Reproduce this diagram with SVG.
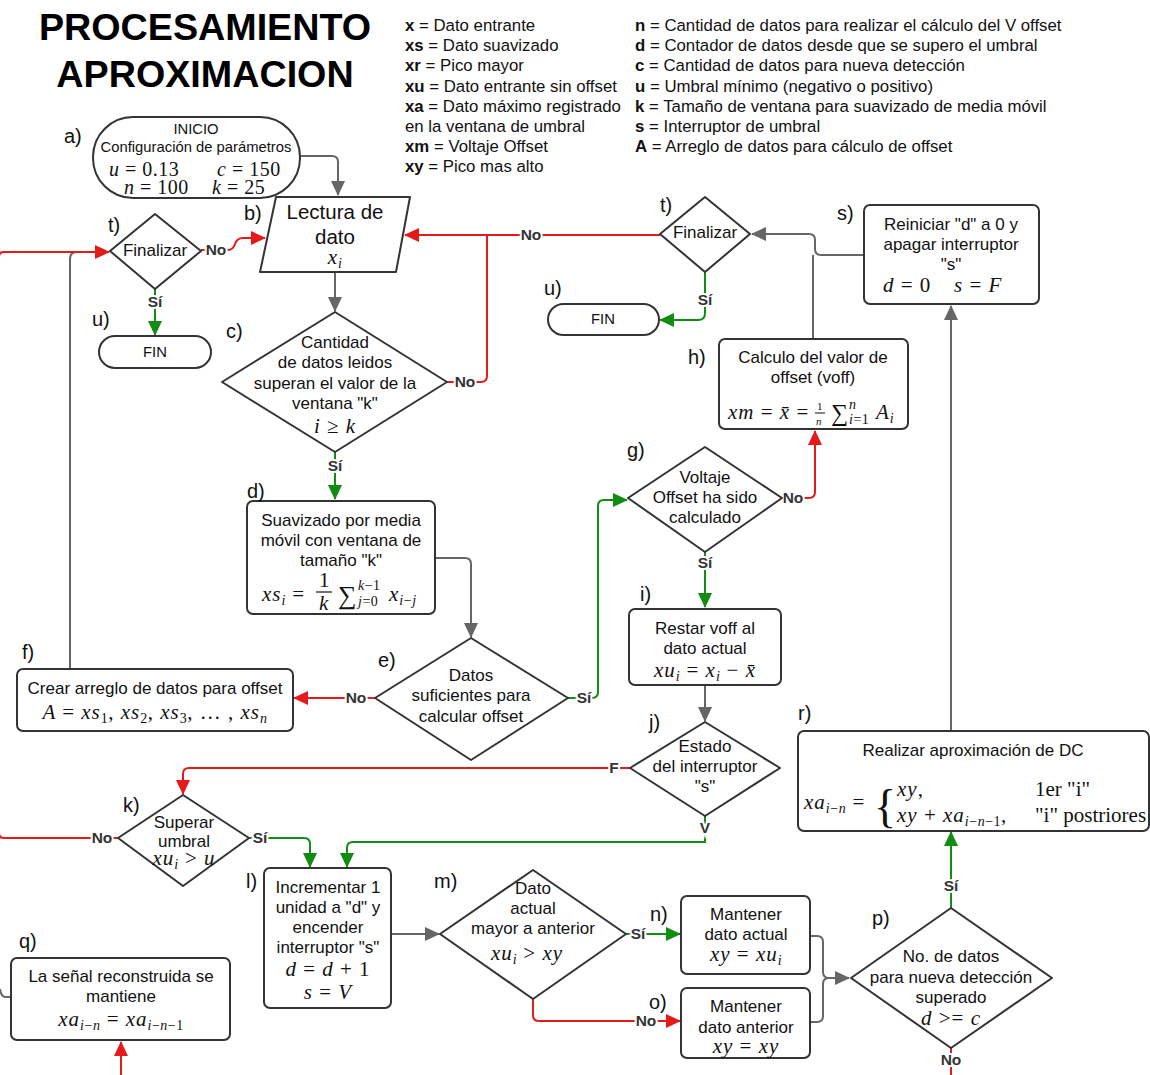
<svg xmlns="http://www.w3.org/2000/svg" width="1150" height="1075" viewBox="0 0 1150 1075">
<style>
.n{fill:#fff;stroke:#333;stroke-width:2}
.t{font-family:"Liberation Sans",Arial,sans-serif;font-size:17px;fill:#111;text-anchor:middle}
.s14{font-size:14.8px}
.m{font-family:"Liberation Serif","Times New Roman",serif;font-style:italic;font-size:21px;letter-spacing:1px;fill:#111;text-anchor:middle}
.ms{font-family:"Liberation Serif","Times New Roman",serif;font-style:italic;font-size:21px;letter-spacing:1px;fill:#111}
.ma{font-size:20px;letter-spacing:0.5px}
.up{font-style:normal}
.sb{font-size:14px;letter-spacing:0.5px}
.nl{letter-spacing:0}
.lb{font-family:"Liberation Sans",Arial,sans-serif;font-size:20px;fill:#111}
.lg{font-family:"Liberation Sans",Arial,sans-serif;font-size:16.8px;fill:#111}
.lg tspan.k{font-weight:bold}
.ttl{font-family:"Liberation Sans",Arial,sans-serif;font-size:37.7px;font-weight:bold;fill:#000;text-anchor:middle}
.c{fill:none;stroke:#666;stroke-width:2}
.cr{fill:none;stroke:#e51b1b;stroke-width:2}
.cg{fill:none;stroke:#128c12;stroke-width:2}
.cl{font-family:"Liberation Sans",Arial,sans-serif;font-size:15.5px;font-weight:bold;fill:#333;text-anchor:middle;paint-order:stroke;stroke:#fff;stroke-width:4px}
</style>
<defs>
<marker id="ag" markerUnits="userSpaceOnUse" markerWidth="16" markerHeight="14" refX="14" refY="7" orient="auto"><path d="M0,0 L15,7 L0,14 z" fill="#666"/></marker>
<marker id="ar" markerUnits="userSpaceOnUse" markerWidth="16" markerHeight="14" refX="14" refY="7" orient="auto"><path d="M0,0 L15,7 L0,14 z" fill="#e51b1b"/></marker>
<marker id="av" markerUnits="userSpaceOnUse" markerWidth="16" markerHeight="14" refX="14" refY="7" orient="auto"><path d="M0,0 L15,7 L0,14 z" fill="#128c12"/></marker>
</defs>
<rect width="1150" height="1075" fill="#fff"/>

<g id="title">
<text class="ttl" x="205" y="40">PROCESAMIENTO</text>
<text class="ttl" x="205" y="87">APROXIMACION</text>
</g>

<g id="legend">
<text class="lg" x="405" y="31"><tspan class="k">x</tspan> = Dato entrante</text>
<text class="lg" x="405" y="51"><tspan class="k">xs</tspan> = Dato suavizado</text>
<text class="lg" x="405" y="71"><tspan class="k">xr</tspan> = Pico mayor</text>
<text class="lg" x="405" y="92"><tspan class="k">xu</tspan> = Dato entrante sin offset</text>
<text class="lg" x="405" y="112"><tspan class="k">xa</tspan> = Dato máximo registrado</text>
<text class="lg" x="405" y="132">en la ventana de umbral</text>
<text class="lg" x="405" y="152"><tspan class="k">xm</tspan> = Voltaje Offset</text>
<text class="lg" x="405" y="172"><tspan class="k">xy</tspan> = Pico mas alto</text>
<text class="lg" x="635" y="31"><tspan class="k">n</tspan> = Cantidad de datos para realizar el cálculo del V offset</text>
<text class="lg" x="635" y="51"><tspan class="k">d</tspan> = Contador de datos desde que se supero el umbral</text>
<text class="lg" x="635" y="71"><tspan class="k">c</tspan> = Cantidad de datos para nueva detección</text>
<text class="lg" x="635" y="92"><tspan class="k">u</tspan> = Umbral mínimo (negativo o positivo)</text>
<text class="lg" x="635" y="112"><tspan class="k">k</tspan> = Tamaño de ventana para suavizado de media móvil</text>
<text class="lg" x="635" y="132"><tspan class="k">s</tspan> = Interruptor de umbral</text>
<text class="lg" x="635" y="152"><tspan class="k">A</tspan> = Arreglo de datos para cálculo de offset</text>
</g>

<g id="connectors">
<path class="c" d="M300 156 L332 156 Q338 156 338 162 L338 195" marker-end="url(#ag)"/>
<path class="c" d="M335 272 L335 311" marker-end="url(#ag)"/>
<path class="c" d="M435 558 L465 558 Q471 558 471 564 L471 637" marker-end="url(#ag)"/>
<path class="c" d="M70 669 L70 259 Q70 252 77 252"/>
<path class="c" d="M705 685 L705 721" marker-end="url(#ag)"/>
<path class="c" d="M391 934 L439 934" marker-end="url(#ag)"/>
<path class="c" d="M810 936 L817 936 Q823 936 823 942 L823 972 Q823 978 829 978 L849 978" marker-end="url(#ag)"/>
<path class="c" d="M810 1022 L817 1022 Q823 1022 823 1016 L823 984 Q823 978 829 978"/>
<path class="c" d="M951 731 L951 306" marker-end="url(#ag)"/>
<path class="c" d="M864 255 L821 255 Q815 255 815 249 L815 240 Q815 234 809 234 L752 234" marker-end="url(#ag)"/>
<path class="c" d="M813 339 L813 255"/>
<path class="c" d="M0 989 Q1 997 6 997 L11 997"/>

<path class="cr" d="M447 382 L481 382 Q487 382 487 376 L487 235"/>
<path class="cr" d="M660 235 L405 235" marker-end="url(#ar)"/>
<path class="cr" d="M201 250 L228 250 Q233 250 235 244 Q237 238 243 238 L265 238" marker-end="url(#ar)"/>
<path class="cr" d="M118 838 L4 838 Q-1 838 -1 833 L-1 257 Q-1 252 4 252 L109 252" marker-end="url(#ar)"/>
<path class="cr" d="M375 698 L294 698" marker-end="url(#ar)"/>
<path class="cr" d="M782 498 L809 498 Q815 498 815 492 L815 431" marker-end="url(#ar)"/>
<path class="cr" d="M630 768 L189 768 Q183 768 183 774 L183 794" marker-end="url(#ar)"/>
<path class="cr" d="M533 999 L533 1015 Q533 1021 539 1021 L680 1021" marker-end="url(#ar)"/>
<path class="cr" d="M951 1048 L951 1080"/>
<path class="cr" d="M121 1080 L121 1042" marker-end="url(#ar)"/>

<path class="cg" d="M335 452 L335 499" marker-end="url(#av)"/>
<path class="cg" d="M155 289 L155 335" marker-end="url(#av)"/>
<path class="cg" d="M705 272 L705 313 Q705 320 698 320 L660 320" marker-end="url(#av)"/>
<path class="cg" d="M568 698 L592 698 Q598 698 598 692 L598 506 Q598 500 604 500 L627 500" marker-end="url(#av)"/>
<path class="cg" d="M705 552 L705 607" marker-end="url(#av)"/>
<path class="cg" d="M705 816 L705 842 L353 842 Q347 842 347 848 L347 867" marker-end="url(#av)"/>
<path class="cg" d="M249 838 L304 838 Q310 838 310 844 L310 867" marker-end="url(#av)"/>
<path class="cg" d="M626 934 L680 934" marker-end="url(#av)"/>
<path class="cg" d="M951 908 L951 832" marker-end="url(#av)"/>

<text class="cl" x="216" y="255">No</text>
<text class="cl" x="155" y="307">Sí</text>
<text class="cl" x="531" y="240">No</text>
<text class="cl" x="705" y="305">Sí</text>
<text class="cl" x="465" y="387">No</text>
<text class="cl" x="335" y="471">Sí</text>
<text class="cl" x="356" y="703">No</text>
<text class="cl" x="584" y="703">Sí</text>
<text class="cl" x="793" y="503">No</text>
<text class="cl" x="705" y="568">Sí</text>
<text class="cl" x="614" y="773">F</text>
<text class="cl" x="705" y="833">V</text>
<text class="cl" x="102" y="843">No</text>
<text class="cl" x="260" y="843">Sí</text>
<text class="cl" x="638" y="939">Sí</text>
<text class="cl" x="646" y="1026">No</text>
<text class="cl" x="951" y="891">Sí</text>
<text class="cl" x="951" y="1065">No</text>
</g>

<g id="node-a">
<rect class="n" x="93" y="117" width="207" height="81" rx="40"/>
<text class="t s14" x="196" y="134">INICIO</text>
<text class="t s14" x="196" y="152">Configuración de parámetros</text>
<text class="ms ma" x="109" y="176">u <tspan class="up">= 0.13</tspan></text>
<text class="ms ma" x="217" y="176">c <tspan class="up">= 150</tspan></text>
<text class="ms ma" x="124" y="194">n <tspan class="up">= 100</tspan></text>
<text class="ms ma" x="212" y="194">k <tspan class="up">= 25</tspan></text>
<text class="lb" x="64" y="143">a)</text>
</g>

<g id="node-b">
<path class="n" d="M276 197 L410 197 L396 272 L260 272 Z" stroke-linejoin="round"/>
<text class="t" x="335" y="219" style="font-size:20.5px">Lectura de</text>
<text class="t" x="335" y="244" style="font-size:20.5px">dato</text>
<text class="m" x="335" y="264">x<tspan class="sb" dy="4">i</tspan></text>
<text class="lb" x="244" y="220">b)</text>
</g>

<g id="node-c">
<path class="n" d="M335 312 L447 382 L335 452 L222 382 Z" stroke-linejoin="round"/>
<text class="t" x="335" y="348">Cantidad</text>
<text class="t" x="335" y="368">de datos leidos</text>
<text class="t" x="335" y="389">superan el valor de la</text>
<text class="t" x="335" y="409">ventana "k"</text>
<text class="m" x="335" y="433">i <tspan class="up">≥</tspan> k</text>
<text class="lb" x="226" y="338">c)</text>
</g>

<g id="node-d">
<rect class="n" x="247" y="501" width="188" height="113" rx="6"/>
<text class="t" x="341" y="526">Suavizado por media</text>
<text class="t" x="341" y="546">móvil con ventana de</text>
<text class="t" x="341" y="566">tamaño "k"</text>
<text class="ms" x="262" y="601">xs<tspan class="sb" dy="4">i</tspan><tspan class="up" dy="-4"> =</tspan></text>
<text class="ms up" x="319" y="587">1</text>
<line x1="316" y1="592" x2="332" y2="592" stroke="#111" stroke-width="1.2"/>
<text class="ms" x="319" y="610">k</text>
<text class="ms up" x="338" y="604" style="font-size:26px">∑</text>
<text class="ms sb" x="358" y="590">k<tspan class="up">−1</tspan></text>
<text class="ms sb" x="358" y="606">j<tspan class="up">=0</tspan></text>
<text class="ms" x="389" y="601">x<tspan class="sb" dy="4">i<tspan class="up">−</tspan>j</tspan></text>
<text class="lb" x="247" y="498">d)</text>
</g>

<g id="node-e">
<path class="n" d="M471 638 L568 698 L471 760 L375 698 Z" stroke-linejoin="round"/>
<text class="t" x="471" y="681">Datos</text>
<text class="t" x="471" y="701">suficientes para</text>
<text class="t" x="471" y="722">calcular offset</text>
<text class="lb" x="378" y="667">e)</text>
</g>

<g id="node-f">
<rect class="n" x="17" y="669" width="276" height="62" rx="6"/>
<text class="t" x="155" y="694">Crear arreglo de datos para offset</text>
<text class="m" x="155" y="719">A <tspan class="up">=</tspan> xs<tspan class="sb up" dy="4">1</tspan><tspan class="up" dy="-4">,</tspan> xs<tspan class="sb up" dy="4">2</tspan><tspan class="up" dy="-4">,</tspan> xs<tspan class="sb up" dy="4">3</tspan><tspan class="up" dy="-4">, … ,</tspan> xs<tspan class="sb" dy="4">n</tspan></text>
<text class="lb" x="22" y="659">f)</text>
</g>

<g id="node-t1">
<path class="n" d="M155 214 L201 251 L155 289 L110 251 Z" stroke-linejoin="round"/>
<text class="t" x="155" y="256">Finalizar</text>
<text class="lb" x="108" y="232">t)</text>
</g>

<g id="node-u1">
<rect class="n" x="99" y="336" width="112" height="32" rx="16"/>
<text class="t s14" x="155" y="357">FIN</text>
<text class="lb" x="92" y="326">u)</text>
</g>

<g id="node-t2">
<path class="n" d="M705 197 L750 234 L705 272 L660 234 Z" stroke-linejoin="round"/>
<text class="t" x="705" y="238">Finalizar</text>
<text class="lb" x="660" y="212">t)</text>
</g>

<g id="node-u2">
<rect class="n" x="548" y="304" width="111" height="31" rx="15.5"/>
<text class="t s14" x="603" y="324">FIN</text>
<text class="lb" x="544" y="295">u)</text>
</g>

<g id="node-s">
<rect class="n" x="864" y="205" width="175" height="99" rx="6"/>
<text class="t" x="951" y="230">Reiniciar "d" a 0 y</text>
<text class="t" x="951" y="250">apagar interruptor</text>
<text class="t" x="951" y="270">"s"</text>
<text class="ms" x="883" y="292">d <tspan class="up">= 0</tspan></text>
<text class="ms" x="954" y="292">s <tspan class="up">=</tspan> F</text>
<text class="lb" x="837" y="220">s)</text>
</g>

<g id="node-h">
<rect class="n" x="719" y="339" width="189" height="90" rx="6"/>
<text class="t" x="813" y="363">Calculo del valor de</text>
<text class="t" x="813" y="383">offset (voff)</text>
<text class="ms" x="728" y="419">xm <tspan class="up">=</tspan> x̄ <tspan class="up">=</tspan></text>
<text class="ms up" x="817" y="410" style="font-size:11px">1</text>
<line x1="815" y1="413" x2="825" y2="413" stroke="#111" stroke-width="1"/>
<text class="ms" x="816" y="425" style="font-size:11px">n</text>
<text class="ms up" x="831" y="421" style="font-size:24px">∑</text>
<text class="ms sb" x="849" y="409">n</text>
<text class="ms sb" x="849" y="424">i<tspan class="up">=1</tspan></text>
<text class="ms" x="876" y="419">A<tspan class="sb" dy="4">i</tspan></text>
<text class="lb" x="688" y="364">h)</text>
</g>

<g id="node-g">
<path class="n" d="M705 447 L782 498 L705 552 L628 498 Z" stroke-linejoin="round"/>
<text class="t" x="705" y="483">Voltaje</text>
<text class="t" x="705" y="503">Offset ha sido</text>
<text class="t" x="705" y="523">calculado</text>
<text class="lb" x="627" y="457">g)</text>
</g>

<g id="node-i">
<rect class="n" x="629" y="609" width="152" height="76" rx="6"/>
<text class="t" x="705" y="634">Restar voff al</text>
<text class="t" x="705" y="654">dato actual</text>
<text class="m" x="705" y="677">xu<tspan class="sb" dy="4">i</tspan><tspan class="up" dy="-4"> = </tspan>x<tspan class="sb" dy="4">i</tspan><tspan class="up" dy="-4"> − </tspan>x̄</text>
<text class="lb" x="640" y="601">i)</text>
</g>

<g id="node-j">
<path class="n" d="M705 722 L780 768 L705 816 L630 768 Z" stroke-linejoin="round"/>
<text class="t" x="705" y="752">Estado</text>
<text class="t" x="705" y="772">del interruptor</text>
<text class="t" x="705" y="792">"s"</text>
<text class="lb" x="649" y="729">j)</text>
</g>

<g id="node-k">
<path class="n" d="M183 795 L249 838 L183 886 L118 838 Z" stroke-linejoin="round"/>
<text class="t" x="184" y="828">Superar</text>
<text class="t" x="184" y="847">umbral</text>
<text class="m" x="184" y="865">xu<tspan class="sb" dy="4">i</tspan><tspan class="up" dy="-4"> &gt; </tspan>u</text>
<text class="lb" x="123" y="812">k)</text>
</g>

<g id="node-l">
<rect class="n" x="264" y="868" width="127" height="140" rx="6"/>
<text class="t" x="328" y="893">Incrementar 1</text>
<text class="t" x="328" y="913">unidad a "d" y</text>
<text class="t" x="328" y="933">encender</text>
<text class="t" x="328" y="953">interruptor "s"</text>
<text class="m" x="328" y="976">d <tspan class="up">=</tspan> d <tspan class="up">+ 1</tspan></text>
<text class="m" x="328" y="999">s <tspan class="up">=</tspan> V</text>
<text class="lb" x="246" y="888">l)</text>
</g>

<g id="node-m">
<path class="n" d="M533 870 L626 934 L533 999 L440 934 Z" stroke-linejoin="round"/>
<text class="t" x="533" y="894">Dato</text>
<text class="t" x="533" y="914">actual</text>
<text class="t" x="533" y="934">mayor a anterior</text>
<text class="m" x="527" y="960">xu<tspan class="sb" dy="4">i</tspan><tspan class="up" dy="-4"> &gt; </tspan>xy</text>
<text class="lb" x="434" y="888">m)</text>
</g>

<g id="node-n">
<rect class="n" x="681" y="896" width="129" height="78" rx="6"/>
<text class="t" x="746" y="920">Mantener</text>
<text class="t" x="746" y="940">dato actual</text>
<text class="m" x="746" y="961">xy <tspan class="up">=</tspan> xu<tspan class="sb" dy="4">i</tspan></text>
<text class="lb" x="650" y="921">n)</text>
</g>

<g id="node-o">
<rect class="n" x="681" y="988" width="129" height="70" rx="6"/>
<text class="t" x="746" y="1012">Mantener</text>
<text class="t" x="746" y="1033">dato anterior</text>
<text class="m" x="746" y="1053">xy <tspan class="up">=</tspan> xy</text>
<text class="lb" x="649" y="1009">o)</text>
</g>

<g id="node-p">
<path class="n" d="M951 908 L1052 978 L951 1048 L851 978 Z" stroke-linejoin="round"/>
<text class="t" x="951" y="962">No. de datos</text>
<text class="t" x="951" y="983">para nueva detección</text>
<text class="t" x="951" y="1003">superado</text>
<text class="m" x="951" y="1025">d <tspan class="up">&gt;=</tspan> c</text>
<text class="lb" x="872" y="925">p)</text>
</g>

<g id="node-r">
<rect class="n" x="798" y="731" width="351" height="100" rx="6"/>
<text class="t" x="973" y="756">Realizar aproximación de DC</text>
<text class="ms" x="804" y="809">xa<tspan class="sb" dy="4">i<tspan class="up">−</tspan>n</tspan><tspan class="up" dy="-4"> =</tspan></text>
<text class="ms up" x="874" y="822" style="font-size:46px;font-weight:normal">{</text>
<text class="ms" x="897" y="796">xy<tspan class="up">,</tspan></text>
<text class="ms" x="897" y="822">xy <tspan class="up">+</tspan> xa<tspan class="sb" dy="4">i<tspan class="up">−</tspan>n<tspan class="up">−1</tspan></tspan><tspan class="up" dy="-4">,</tspan></text>
<text class="ms up nl" x="1035" y="796">1er "i"</text>
<text class="ms up nl" x="1035" y="822">"i" postriores</text>
<text class="lb" x="798" y="720">r)</text>
</g>

<g id="node-q">
<rect class="n" x="11" y="958" width="219" height="82" rx="6"/>
<text class="t" x="121" y="982">La señal reconstruida se</text>
<text class="t" x="121" y="1002">mantiene</text>
<text class="m" x="121" y="1026">xa<tspan class="sb" dy="4">i<tspan class="up">−</tspan>n</tspan><tspan class="up" dy="-4"> = </tspan>xa<tspan class="sb" dy="4">i<tspan class="up">−</tspan>n<tspan class="up">−1</tspan></tspan></text>
<text class="lb" x="19" y="948">q)</text>
</g>
</svg>
